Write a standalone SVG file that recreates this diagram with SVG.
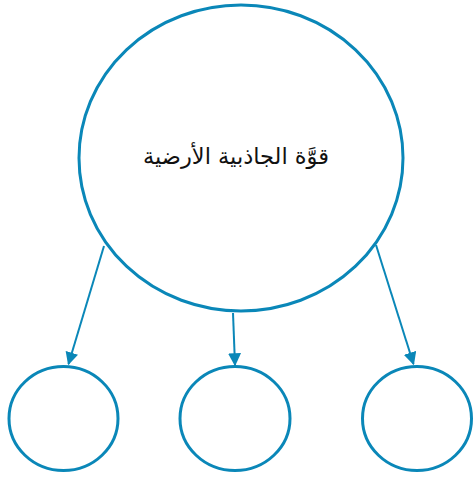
<svg xmlns="http://www.w3.org/2000/svg" width="473" height="478" viewBox="0 0 473 478">
<style>
.node{fill:#fff;stroke:#0a87b8;stroke-width:3}
.edge{stroke:#0a87b8;stroke-width:2;fill:none}
.label{font-family:"DejaVu Sans","Noto Sans",sans-serif;font-size:22.5px;fill:#111}
</style>
<defs>
<marker id="arr" viewBox="0 0 10 10" refX="9" refY="5" markerWidth="6.5" markerHeight="6.5" markerUnits="strokeWidth" orient="auto">
<path d="M0,0 L10,5 L0,10 z" fill="#0a87b8"/>
</marker>
</defs>
<rect width="473" height="478" fill="#fff"/>
<g id="connectors">
<line class="edge" x1="104" y1="246" x2="68.5" y2="364" marker-end="url(#arr)"/>
<line class="edge" x1="233" y1="313" x2="235" y2="365" marker-end="url(#arr)"/>
<line class="edge" x1="376" y1="245" x2="413.5" y2="364" marker-end="url(#arr)"/>
</g>
<g id="main">
<ellipse class="node" cx="241" cy="158" rx="162" ry="153"/>
<text class="label" x="236" y="164" text-anchor="middle" direction="rtl">قوَّة الجاذبية الأرضية</text>
</g>
<g id="child1"><ellipse class="node" cx="63.5" cy="418.5" rx="54.5" ry="52"/></g>
<g id="child2"><ellipse class="node" cx="235" cy="418.5" rx="55" ry="52"/></g>
<g id="child3"><ellipse class="node" cx="417" cy="418.5" rx="54.5" ry="52"/></g>
</svg>
